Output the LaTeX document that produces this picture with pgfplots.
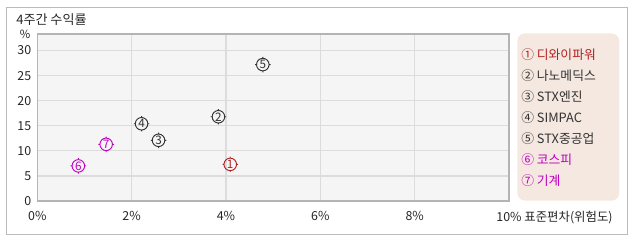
\documentclass[border=0pt]{standalone}
\usepackage{pgfplots}
\pgfplotsset{compat=1.18}
\usepackage{fontspec}
\setmainfont{Noto Sans CJK KR}
\definecolor{cr}{HTML}{B22222}
\definecolor{cd}{HTML}{333333}
\definecolor{cp}{HTML}{C000C0}
\definecolor{gridc}{HTML}{DCDCDC}
\definecolor{bgc}{HTML}{F5F5F5}
\definecolor{framec}{HTML}{BBBBBB}
\definecolor{axc}{HTML}{B4B4B4}
\definecolor{legc}{HTML}{F4E8E1}
\pgfdeclareplotmark{tgt}{%
  \pgfpathcircle{\pgfpointorigin}{4.7pt}%
  \pgfpathmoveto{\pgfpoint{0pt}{4.7pt}}\pgfpathlineto{\pgfpoint{0pt}{5.8pt}}%
  \pgfpathmoveto{\pgfpoint{0pt}{-4.7pt}}\pgfpathlineto{\pgfpoint{0pt}{-5.8pt}}%
  \pgfpathmoveto{\pgfpoint{4.7pt}{0pt}}\pgfpathlineto{\pgfpoint{5.8pt}{0pt}}%
  \pgfpathmoveto{\pgfpoint{-4.7pt}{0pt}}\pgfpathlineto{\pgfpoint{-5.8pt}{0pt}}%
  \pgfusepath{stroke}}
\begin{document}
\begin{tikzpicture}[x=0.75pt,y=0.75pt]
\path[use as bounding box] (0,0) rectangle (638,242);
\draw[framec, line width=0.75pt] (6.5,7.5) rectangle (627.5,234.5);
\node[anchor=base west, inner sep=0pt, font=\fontsize{9.8}{9.8}\selectfont, text=black!85] at (16,217) {4주간 수익률};
\node[anchor=base, inner sep=0pt, font=\fontsize{8.5}{8.5}\selectfont, text=black!85] at (25,203) {\%};
\begin{axis}[
  at={(27.975pt,30.75pt)}, anchor=south west, scale only axis,
  width=353.8pt, height=125.25pt,
  xmin=0, xmax=10, ymin=0, ymax=33.3,
  xtick={0,2,4,6,8,10}, ytick={0,5,10,15,20,25,30},
  xticklabels={0\%,2\%,4\%,6\%,8\%,{10\%\rlap{ 표준편차(위험도)}}},
  /pgf/number format/assume math mode=true,
  tick label style={font=\fontsize{9.3}{9.3}\selectfont, text=black!85},
  xticklabel style={yshift=-4pt},
  yticklabel style={xshift=-1pt},
  major tick length=0pt,
  grid=major,
  major grid style={gridc, line width=0.9pt},
  axis background/.style={fill=bgc},
  axis line style={axc, line width=1.1pt},
  clip=false,
  every node near coord/.style={anchor=center, font=\fontsize{8.8}{8.8}\selectfont},
]
\addplot[only marks, mark=tgt, cr, line width=0.7pt, nodes near coords={1}] coordinates {(4.09,7.3)};
\addplot[only marks, mark=tgt, cd, line width=0.7pt, nodes near coords={2}] coordinates {(3.84,16.8)};
\addplot[only marks, mark=tgt, cd, line width=0.7pt, nodes near coords={3}] coordinates {(2.57,12.1)};
\addplot[only marks, mark=tgt, cd, line width=0.7pt, nodes near coords={4}] coordinates {(2.21,15.4)};
\addplot[only marks, mark=tgt, cd, line width=0.7pt, nodes near coords={5}] coordinates {(4.78,27.2)};
\addplot[only marks, mark=tgt, cp, line width=0.7pt, nodes near coords={6}] coordinates {(0.87,7.0)};
\addplot[only marks, mark=tgt, cp, line width=0.7pt, nodes near coords={7}] coordinates {(1.46,11.3)};
\end{axis}
\fill[legc, rounded corners=6pt] (517.3,41.3) rectangle (619.3,208.7);
\begin{scope}[every node/.style={anchor=west, inner sep=0pt, font=\fontsize{9.6}{9.6}\selectfont}]
\node[text=cr] at (521,187) {① 디와이파워};
\node[text=cd] at (521,166) {② 나노메딕스};
\node[text=cd] at (521,145) {③ STX엔진};
\node[text=cd] at (521,124) {④ SIMPAC};
\node[text=cd] at (521,103) {⑤ STX중공업};
\node[text=cp] at (521,82) {⑥ 코스피};
\node[text=cp] at (521,61) {⑦ 기계};
\end{scope}
\end{tikzpicture}
\end{document}
